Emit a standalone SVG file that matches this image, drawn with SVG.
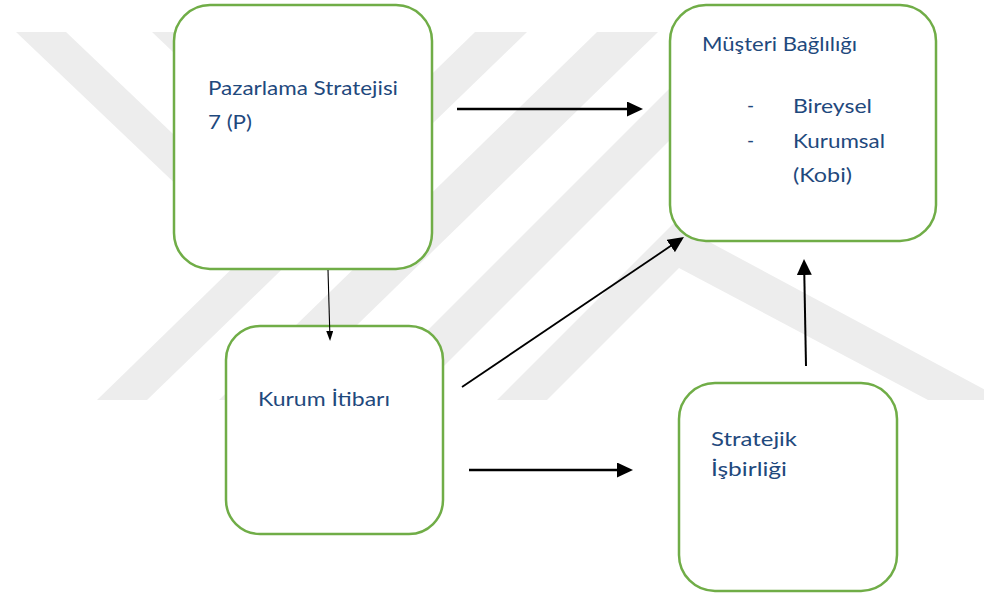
<svg xmlns="http://www.w3.org/2000/svg" width="984" height="593" viewBox="0 0 984 593">
  <style>
    .wm { fill: #ededed; stroke: none; }
    .box { fill: #ffffff; stroke: #70AD47; stroke-width: 2.5; }
    .t { font-family: Lato, "Open Sans", "DejaVu Sans", sans-serif; font-size: 19px; fill: #1F497D; }
    .c { stroke: #000000; fill: none; }
  </style>
  <defs>
    <marker id="ah" viewBox="0 0 16 15" refX="6" refY="7.5" markerWidth="16" markerHeight="15" markerUnits="userSpaceOnUse" orient="auto">
      <path d="M0,0 L16,7.5 L0,15 Z" fill="#000000"/>
    </marker>
    <marker id="ahs" viewBox="0 0 10 7" refX="5" refY="3.5" markerWidth="10" markerHeight="7" markerUnits="userSpaceOnUse" orient="auto">
      <path d="M0,0 L10,3.5 L0,7 Z" fill="#000000"/>
    </marker>
  </defs>
  <rect width="984" height="593" fill="#ffffff"/>
  <g id="watermark">
    <polygon class="wm" points="16,32 66,32 299,254 248,253"/>
    <polygon class="wm" points="152,32 205,32 434,250 377,246"/>
    <polygon class="wm" points="475,32 527,32 147,400 97,400"/>
    <polygon class="wm" points="597,32 658,32 280,400 219,400"/>
    <polygon class="wm" points="726,32 778,32 410,400 358,400"/>
    <polygon class="wm" points="674,223 1004,400 928,400 679,268 547,400 497,400"/>
  </g>
  <g id="node-pazarlama">
    <rect class="box" x="174" y="5" width="258" height="264" rx="36" ry="36"/>
    <text class="t" x="208" y="95" textLength="190" lengthAdjust="spacingAndGlyphs">Pazarlama Stratejisi</text>
    <text class="t" x="208" y="129" textLength="44" lengthAdjust="spacingAndGlyphs">7 (P)</text>
  </g>
  <g id="node-musteri">
    <rect class="box" x="670" y="5" width="266" height="236" rx="36" ry="36"/>
    <text class="t" x="702" y="51" textLength="155" lengthAdjust="spacingAndGlyphs">Müşteri Bağlılığı</text>
    <text class="t" x="747" y="112">-</text>
    <text class="t" x="793" y="113" textLength="79" lengthAdjust="spacingAndGlyphs">Bireysel</text>
    <text class="t" x="747" y="147">-</text>
    <text class="t" x="793" y="148" textLength="92" lengthAdjust="spacingAndGlyphs">Kurumsal</text>
    <text class="t" x="793" y="182" textLength="59" lengthAdjust="spacingAndGlyphs">(Kobi)</text>
  </g>
  <g id="node-kurum">
    <rect class="box" x="226" y="326" width="217" height="208" rx="34" ry="34"/>
    <text class="t" x="258" y="406" textLength="132" lengthAdjust="spacingAndGlyphs">Kurum İtibarı</text>
  </g>
  <g id="node-stratejik">
    <rect class="box" x="679" y="383" width="218" height="208" rx="36" ry="36"/>
    <text class="t" x="711" y="446" textLength="86" lengthAdjust="spacingAndGlyphs">Stratejik</text>
    <text class="t" x="711" y="476" textLength="76" lengthAdjust="spacingAndGlyphs">İşbirliği</text>
  </g>
  <g id="connectors">
    <line class="c" x1="457" y1="109" x2="633" y2="109" stroke-width="2.5" marker-end="url(#ah)"/>
    <line class="c" x1="328" y1="270" x2="329.9" y2="336" stroke-width="1.1" marker-end="url(#ahs)"/>
    <line class="c" x1="462" y1="387" x2="675.7" y2="242.6" stroke-width="1.8" marker-end="url(#ah)"/>
    <line class="c" x1="806" y1="366" x2="804.2" y2="269" stroke-width="2" marker-end="url(#ah)"/>
    <line class="c" x1="469" y1="470" x2="623" y2="470" stroke-width="2.5" marker-end="url(#ah)"/>
  </g>
</svg>
